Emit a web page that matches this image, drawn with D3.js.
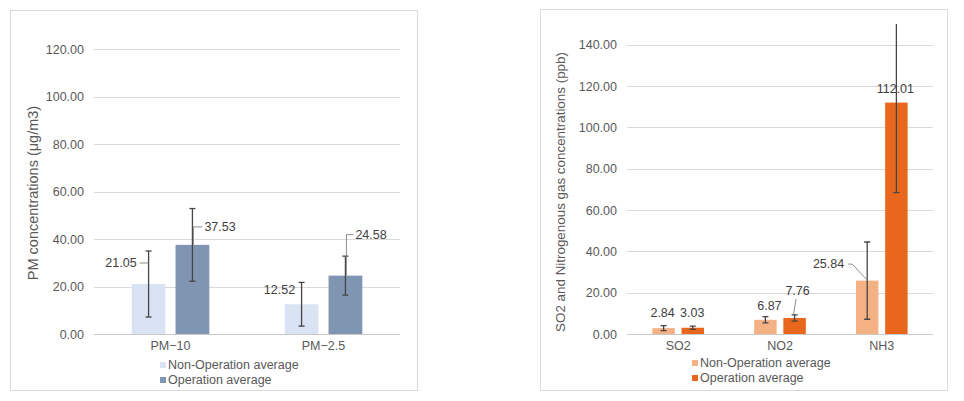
<!DOCTYPE html>
<html>
<head>
<meta charset="utf-8">
<script src="https://cdn.jsdelivr.net/npm/d3@7/dist/d3.min.js"></script>
<style>
  html, body { margin: 0; padding: 0; background: #fff; }
  svg { display: block; font-family: "Liberation Sans", Arial, sans-serif; }
</style>
</head>
<body>
<svg id="chart" width="964" height="401"></svg>
<script>
// ---------- DATA ----------
const seriesNames = ["Non-Operation average", "Operation average"];

const pmCategories = ["PM\u221210", "PM\u22122.5"];
const pmNonOp = [21.05, 12.52];
const pmOp = [37.53, 24.58];
const pmNonOpErr = [13.9, 9.2];
const pmOpErr = [15.3, 8.2];
const pmTicks = [0, 20, 40, 60, 80, 100, 120];
const pmAxisMax = 120;
const pmTitle = "PM concentrations  (\u03bcg/m3)";

const gasCategories = ["SO2", "NO2", "NH3"];
const gasNonOp = [2.84, 6.87, 25.84];
const gasOp = [3.03, 7.76, 112.01];
const gasNonOpErr = [1.2, 1.5, 18.7];
const gasOpErr = [0.8, 1.5, 43.6];
const gasTicks = [0, 20, 40, 60, 80, 100, 120, 140];
const gasAxisMax = 150;
const gasTitle = "SO2 and Nitrogenous gas  concentrations  (ppb)";

// ---------- LAYOUT / STYLE ----------
const svg = d3.select("#chart");

function drawPanel(cfg) {
  const g = svg.append("g");
  g.append("rect")
    .attr("x", cfg.panel[0]).attr("y", cfg.panel[1])
    .attr("width", cfg.panel[2]).attr("height", cfg.panel[3])
    .attr("fill", "#fff").attr("stroke", "#d9d9d9").attr("stroke-width", 1);

  const y = d3.scaleLinear().domain([0, cfg.max]).range([cfg.y0, cfg.yTopAtMax]);
  const x0 = d3.scaleBand().domain(cfg.categories).range([cfg.x0, cfg.x1]);
  const x1 = d3.scaleBand().domain(seriesNames).range([0, x0.bandwidth()])
    .paddingInner(0.23).paddingOuter(0.86);

  // gridlines
  g.append("g").selectAll("line").data(cfg.ticks.filter(t => t > 0)).join("line")
    .attr("x1", cfg.x0).attr("x2", cfg.x1)
    .attr("y1", d => Math.round(y(d)) + 0.5).attr("y2", d => Math.round(y(d)) + 0.5)
    .attr("stroke", "#d9d9d9").attr("stroke-width", 1);
  // baseline
  g.append("line").attr("x1", cfg.x0).attr("x2", cfg.x1)
    .attr("y1", Math.round(y(0)) + 0.5).attr("y2", Math.round(y(0)) + 0.5)
    .attr("stroke", "#c8c8c8").attr("stroke-width", 1.2);

  // y axis labels
  const yAxis = d3.axisLeft(y).tickValues(cfg.ticks).tickFormat(d3.format(".2f"))
    .tickSize(0).tickPadding(0);
  const ya = g.append("g").attr("transform", `translate(${cfg.tickX},0)`).call(yAxis);
  ya.select(".domain").remove();
  ya.selectAll("text").attr("fill", "#595959").attr("font-size", "12.5px")
    .attr("font-family", "Liberation Sans, Arial, sans-serif");

  // x axis labels
  const xAxis = d3.axisBottom(x0).tickSize(0).tickPadding(0);
  const xa = g.append("g").attr("transform", `translate(0,${cfg.xLabelY})`).call(xAxis);
  xa.select(".domain").remove();
  xa.selectAll("text").attr("fill", "#595959").attr("font-size", "12.5px")
    .attr("font-family", "Liberation Sans, Arial, sans-serif");

  // y title
  g.append("text")
    .attr("transform", `translate(${cfg.titleX},${cfg.titleY}) rotate(-90)`)
    .attr("text-anchor", "middle").attr("dominant-baseline", "central")
    .attr("fill", "#595959").attr("font-size", cfg.titleSize).text(cfg.title);

  // bars
  const series = [cfg.nonOp, cfg.op];
  const errs = [cfg.nonOpErr, cfg.opErr];
  const clipId = "clip" + cfg.id;
  g.append("clipPath").attr("id", clipId).append("rect")
    .attr("x", cfg.x0).attr("y", y(cfg.max)).attr("width", cfg.x1 - cfg.x0)
    .attr("height", y(0) - y(cfg.max) + 10);

  const items = [];
  cfg.categories.forEach((c, i) => {
    seriesNames.forEach((s, j) => {
      items.push({ c, s, j, i, v: series[j][i], e: errs[j][i],
        cx: x0(c) + x1(s) + x1.bandwidth() / 2 });
    });
  });

  g.append("g").selectAll("rect").data(items).join("rect")
    .attr("x", d => x0(d.c) + x1(d.s)).attr("width", x1.bandwidth())
    .attr("y", d => y(d.v)).attr("height", d => y(0) - y(d.v))
    .attr("fill", d => cfg.colors[d.j]);

  // error bars
  const eg = g.append("g").attr("clip-path", `url(#${clipId})`)
    .attr("stroke", "#454545").attr("stroke-width", 1.3).attr("fill", "none");
  items.forEach(d => {
    const top = y(d.v + d.e), bot = y(Math.max(0, d.v - d.e));
    eg.append("line").attr("x1", d.cx).attr("x2", d.cx).attr("y1", top).attr("y2", bot);
    eg.append("line").attr("x1", d.cx - 3).attr("x2", d.cx + 3).attr("y1", top).attr("y2", top);
    eg.append("line").attr("x1", d.cx - 3).attr("x2", d.cx + 3).attr("y1", bot).attr("y2", bot);
  });

  // data labels (manual offsets, like the dragged labels in the original)
  items.forEach((d, k) => {
    const o = cfg.labelOffsets[k];
    const lx = d.cx + o.dx, ly = y(d.v) + o.dy;
    g.append("text").attr("x", lx).attr("y", ly)
      .attr("text-anchor", o.anchor).attr("dominant-baseline", "central")
      .attr("fill", "#404040").attr("font-size", "12.5px").text(d3.format(".2f")(d.v));
    if (o.leader) {
      const p = o.leader(lx, ly, d.cx, y(d.v));
      g.append("path").attr("d", p).attr("fill", "none")
        .attr("stroke", "#8c8c8c").attr("stroke-width", 1);
    }
  });

  // legend
  const lg = g.append("g");
  seriesNames.forEach((s, j) => {
    const ly = cfg.legendY + j * 15;
    lg.append("rect").attr("x", cfg.legendX).attr("y", ly - 3)
      .attr("width", 6).attr("height", 6).attr("fill", cfg.colors[j]);
    lg.append("text").attr("x", cfg.legendX + 8).attr("y", ly)
      .attr("dominant-baseline", "central").attr("fill", "#595959")
      .attr("font-size", "12.5px").text(s);
  });
}

drawPanel({
  id: "pm",
  panel: [10.5, 10.5, 407, 380],
  categories: pmCategories, nonOp: pmNonOp, op: pmOp,
  nonOpErr: pmNonOpErr, opErr: pmOpErr, ticks: pmTicks, max: pmAxisMax,
  x0: 94, x1: 400, y0: 334, yTopAtMax: 49,
  tickX: 84, xLabelY: 341, titleX: 33, titleY: 193, title: pmTitle, titleSize: "14.5px",
  colors: ["#dae3f3", "#8095b2"],
  legendX: 160, legendY: 365,
  labelOffsets: [
    { dx: -12, dy: -21, anchor: "end", leader: (lx, ly, cx) => `M${lx + 3},${ly} H${cx}` },
    { dx: 12, dy: -18, anchor: "start", leader: (lx, ly, cx, by) => `M${lx - 2},${ly} H${cx + 1} V${by}` },
    { dx: -6.5, dy: -14, anchor: "end" },
    { dx: 10, dy: -41, anchor: "start", leader: (lx, ly, cx, by) => `M${lx - 2},${ly} H${cx + 1} V${by}` }
  ]
});

drawPanel({
  id: "gas",
  panel: [540.5, 9.5, 407, 381],
  categories: gasCategories, nonOp: gasNonOp, op: gasOp,
  nonOpErr: gasNonOpErr, opErr: gasOpErr, ticks: gasTicks, max: gasAxisMax,
  x0: 627.3, x1: 932.7, y0: 334, yTopAtMax: 24.1,
  tickX: 617, xLabelY: 341, titleX: 560, titleY: 192, title: gasTitle, titleSize: "13.4px",
  colors: ["#f4b183", "#e8671c"],
  legendX: 692, legendY: 363,
  labelOffsets: [
    { dx: -1, dy: -15, anchor: "middle" },
    { dx: -0.5, dy: -15, anchor: "middle" },
    { dx: 4, dy: -14, anchor: "middle" },
    { dx: 3, dy: -27, anchor: "middle", leader: (lx, ly, cx, by) => `M${lx - 1.5},${ly + 8} L${cx - 1},${by - 4}` },
    { dx: -23, dy: -16.5, anchor: "end", leader: (lx, ly, cx, by) => `M${lx + 4},${ly} H${lx + 8} L${cx - 0.5},${by - 1}` },
    { dx: -1, dy: -13.6, anchor: "middle" }
  ]
});
</script>
</body>
</html>
